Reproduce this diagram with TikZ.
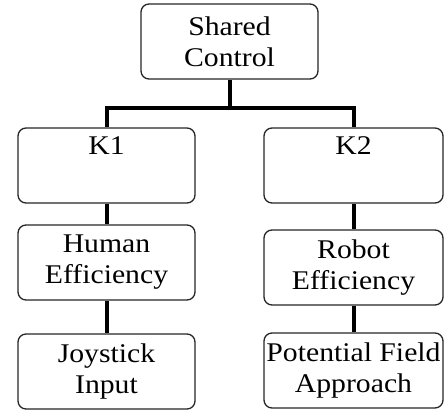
\documentclass[tikz,border=0pt]{standalone}
\usepackage{fontspec}
\setmainfont{Liberation Serif}[FakeStretch=1.1]
\begin{document}
\begin{tikzpicture}[x=1pt,y=1pt,
  box/.style={draw=black!85, line width=1.3pt, rounded corners=8pt, fill=white,
    minimum height=75pt, inner sep=0pt, align=center,
    font=\fontsize{27}{31}\selectfont},
  lbox/.style={box, minimum width=177pt},
  rbox/.style={box, minimum width=179pt},
  link/.style={line width=4pt, black}]
\useasboundingbox (0,0) rectangle (444,-410);
% top node
\node[box, minimum width=177pt] (sc) at (229.5,-41.5) {Shared\\Control};
% left branch
\node[lbox] (k1) at (106.5,-165.5) {K1\\\strut};
\node[lbox] (he) at (106.5,-262.5) {Human\\Efficiency};
\node[lbox] (ji) at (106.5,-371.5) {Joystick\\Input};
% right branch
\node[rbox] (k2) at (353.5,-165.5) {K2\\\strut};
\node[rbox] (re) at (353.5,-267.5) {Robot\\Efficiency};
\node[rbox] (pf) at (353.5,-370.5) {Potential Field\\Approach};
% connectors
\coordinate (j) at (229.5,-108);
\draw[link] (sc.south) -- (j);
\draw[link] (k1.north) |- (j) -| (k2.north);
\draw[link] (k1.south) -- (he.north);
\draw[link] (he.south) -- (ji.north);
\draw[link] (k2.south) -- (re.north);
\draw[link] (re.south) -- (pf.north);
\end{tikzpicture}
\end{document}
